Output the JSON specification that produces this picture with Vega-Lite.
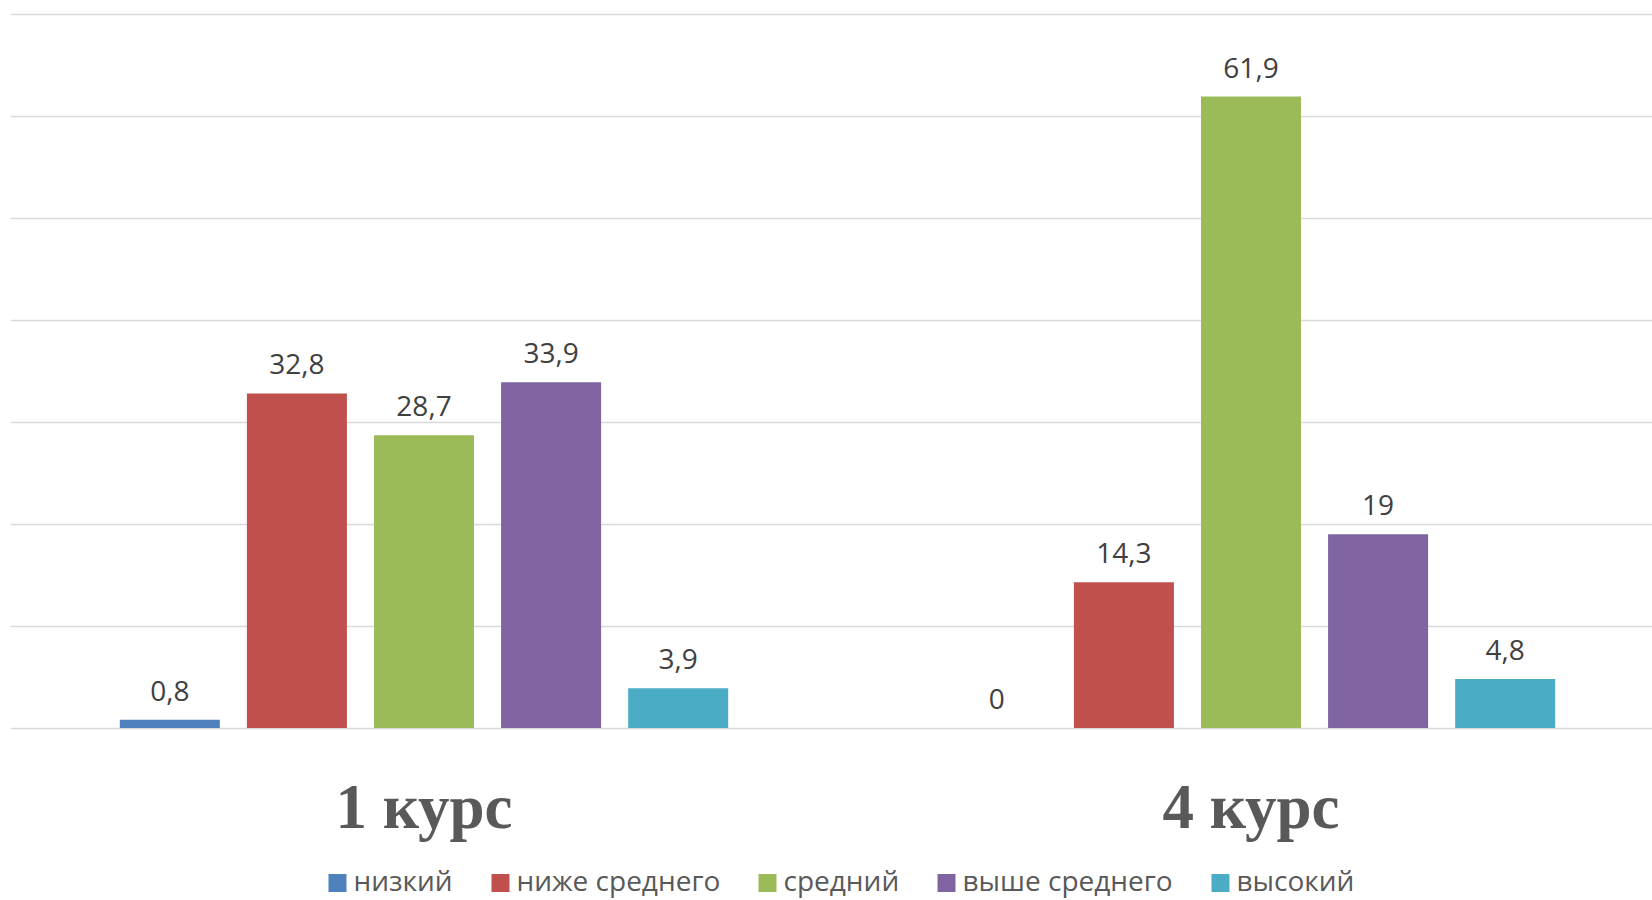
{
  "$schema": "https://vega.github.io/schema/vega-lite/v6.json",
  "width": 1641.5,
  "height": 714,
  "autosize": {"type": "none"},
  "padding": {"left": 10.5, "top": 14, "right": 0, "bottom": 172},
  "background": "#ffffff",
  "config": {
    "view": {"stroke": null},
    "locale": {"number": {"decimal": ",", "thousands": " ", "grouping": [3], "currency": ["", " ₽"]}}
  },
  "data": {
    "values": [
      {"course": "1 курс", "level": "низкий", "value": 0.8},
      {"course": "1 курс", "level": "ниже среднего", "value": 32.8},
      {"course": "1 курс", "level": "средний", "value": 28.7},
      {"course": "1 курс", "level": "выше среднего", "value": 33.9},
      {"course": "1 курс", "level": "высокий", "value": 3.9},
      {"course": "4 курс", "level": "низкий", "value": 0},
      {"course": "4 курс", "level": "ниже среднего", "value": 14.3},
      {"course": "4 курс", "level": "средний", "value": 61.9},
      {"course": "4 курс", "level": "выше среднего", "value": 19},
      {"course": "4 курс", "level": "высокий", "value": 4.8}
    ]
  },
  "encoding": {
    "x": {
      "field": "course",
      "type": "nominal",
      "sort": ["1 курс", "4 курс"],
      "scale": {"paddingInner": 0, "paddingOuter": 0, "range": [0, 1654]},
      "axis": {
        "title": null,
        "labelAngle": 0,
        "ticks": false,
        "domain": false,
        "grid": false,
        "labelFont": "Liberation Serif",
        "labelFontWeight": "bold",
        "labelFontSize": 63,
        "labelColor": "#595959",
        "labelBaseline": "alphabetic",
        "labelPadding": 99
      }
    },
    "xOffset": {
      "field": "level",
      "type": "nominal",
      "sort": ["низкий", "ниже среднего", "средний", "выше среднего", "высокий"],
      "scale": {"paddingInner": 0.213, "paddingOuter": 0.86}
    },
    "y": {
      "field": "value",
      "type": "quantitative",
      "scale": {"domain": [0, 70], "nice": false, "zero": true},
      "axis": {
        "title": null,
        "labels": false,
        "ticks": false,
        "domain": false,
        "grid": true,
        "values": [0, 10, 20, 30, 40, 50, 60, 70],
        "gridColor": "#d9d9d9",
        "gridWidth": 1.5
      }
    }
  },
  "layer": [
    {
      "mark": {"type": "bar"},
      "encoding": {
        "color": {
          "field": "level",
          "type": "nominal",
          "sort": ["низкий", "ниже среднего", "средний", "выше среднего", "высокий"],
          "scale": {
            "domain": ["низкий", "ниже среднего", "средний", "выше среднего", "высокий"],
            "range": ["#4f81bd", "#c0504d", "#9bbb59", "#8064a2", "#4bacc6"]
          },
          "legend": {
            "orient": "none",
            "legendX": 313,
            "legendY": 855,
            "direction": "horizontal",
            "title": null,
            "symbolType": "square",
            "symbolSize": 324,
            "symbolStrokeWidth": 0,
            "symbolOpacity": 1,
            "labelFont": "Open Sans",
            "labelFontSize": 28,
            "labelColor": "#595959",
            "labelOffset": 2,
            "columnPadding": 33,
            "padding": 0,
            "labelLimit": 400
          }
        }
      }
    },
    {
      "mark": {
        "type": "text",
        "dy": -19,
        "baseline": "alphabetic",
        "font": "Open Sans",
        "fontSize": 28,
        "color": "#404040"
      },
      "encoding": {
        "text": {"field": "value", "type": "quantitative", "format": ".1~f"}
      }
    }
  ]
}
